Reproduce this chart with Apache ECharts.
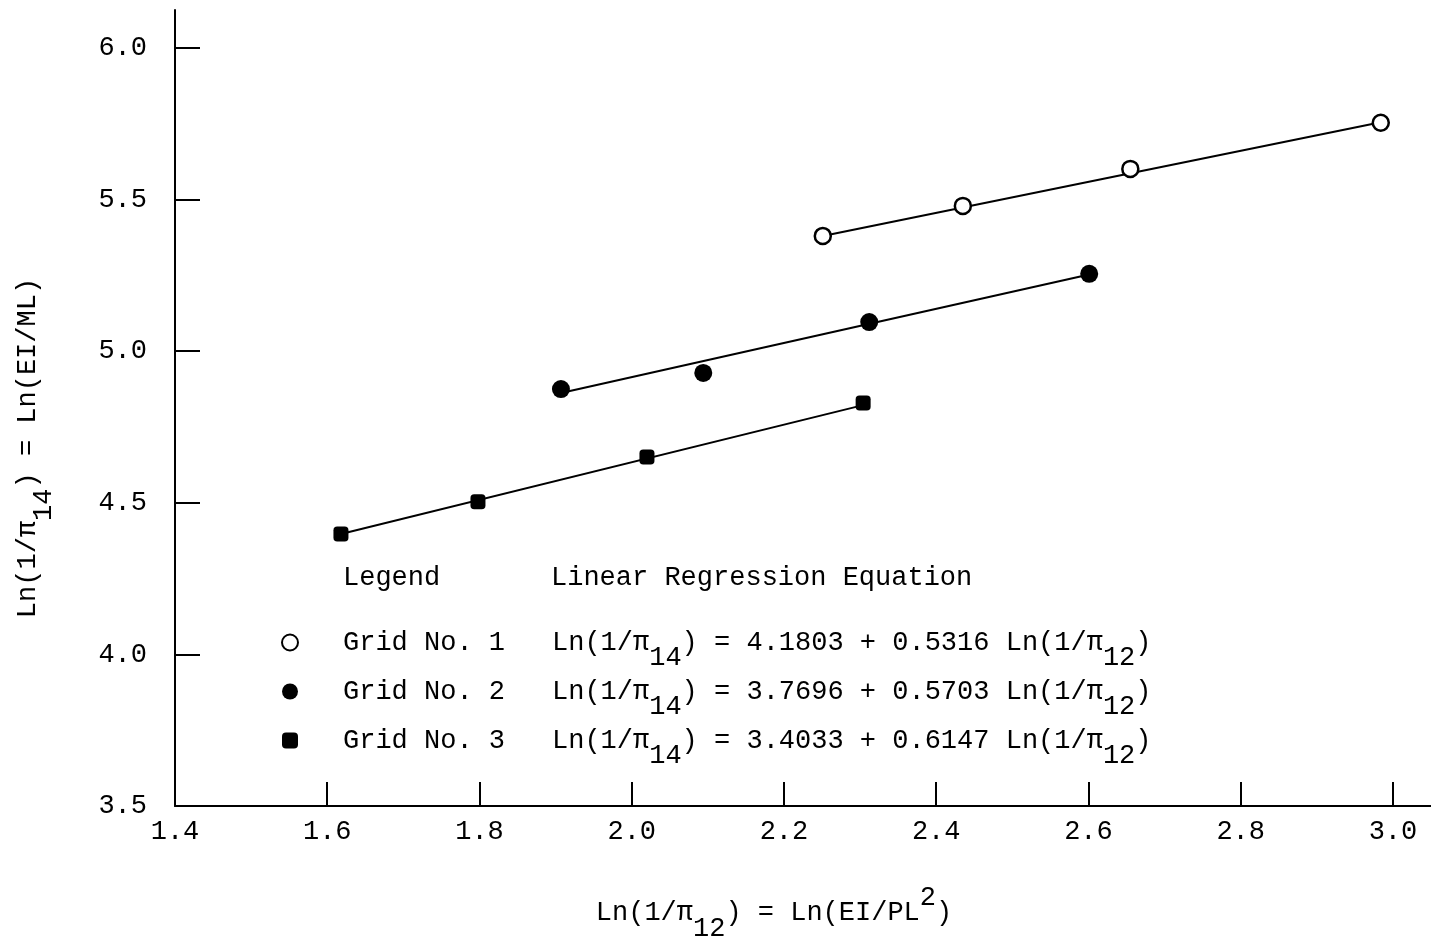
<!DOCTYPE html>
<html>
<head>
<meta charset="utf-8">
<script src="https://cdn.jsdelivr.net/npm/echarts@6/dist/echarts.min.js"></script>
<style>
html,body{margin:0;padding:0;background:#fff;}
#chart{width:1431px;height:942px;}
</style>
</head>
<body>
<div id="chart"></div>
<script>
// ---- data ----
const xTicks = [1.4, 1.6, 1.8, 2.0, 2.2, 2.4, 2.6, 2.8, 3.0];
const yTicks = [3.5, 4.0, 4.5, 5.0, 5.5, 6.0];

const seriesNames = ['Grid No. 1', 'Grid No. 2', 'Grid No. 3'];

const grid1X = [2.251, 2.435, 2.655, 2.984];
const grid1Y = [5.380, 5.479, 5.601, 5.753];
const grid2X = [1.907, 2.094, 2.312, 2.601];
const grid2Y = [4.875, 4.928, 5.096, 5.255];
const grid3X = [1.618, 1.798, 2.020, 2.304];
const grid3Y = [4.397, 4.503, 4.651, 4.829];

// regression line end points as drawn
const fit1X = [2.251, 2.984];
const fit1Y = [5.380, 5.755];
const fit2X = [1.907, 2.601];
const fit2Y = [4.862, 5.253];
const fit3X = [1.618, 2.304];
const fit3Y = [4.397, 4.822];

const intercepts = ['4.1803', '3.7696', '3.4033'];
const slopes = ['0.5316', '0.5703', '0.6147'];

// ---- chart ----
const FONT = "'Liberation Mono', 'Courier New', monospace";
const FS = 27;
const pairs = (xs, ys) => xs.map((x, i) => [x, ys[i]]);

const richBase = {
  b: { fontFamily: FONT, fontSize: FS, color: '#000', lineHeight: 58, verticalAlign: 'middle' },
  s: { fontFamily: FONT, fontSize: FS, color: '#000', lineHeight: 30, verticalAlign: 'bottom' },
  p: { fontFamily: FONT, fontSize: FS, color: '#000', lineHeight: 30, verticalAlign: 'top' },
  n: { fontFamily: FONT, fontSize: FS, color: '#000', lineHeight: 58, verticalAlign: 'middle', width: 209, padding: [0, 0, 0, 40] }
};

const chart = echarts.init(document.getElementById('chart'), null, { renderer: 'canvas' });

const lineStyle = { color: '#000', width: 2 };

const option = {
  backgroundColor: '#fff',
  animation: false,
  grid: { left: 175, right: 0, top: 10, bottom: 136, containLabel: false, outerBoundsMode: 'none' },
  xAxis: {
    type: 'value',
    min: 1.4, max: 3.05, interval: 0.2,
    splitLine: { show: false },
    axisLine: { show: true, onZero: false, lineStyle: { color: '#000', width: 2 } },
    axisTick: { show: true, inside: true, length: 24, customValues: xTicks, lineStyle: { color: '#000', width: 2 } },
    axisLabel: { customValues: xTicks, margin: 12, fontFamily: FONT, fontSize: FS, color: '#000', formatter: v => v.toFixed(1) },
    name: '{b|Ln(1/π}{s|12}{b|) = Ln(EI/PL}{p|2}{b|)}',
    nameLocation: 'middle',
    nameGap: 78,
    nameTextStyle: { padding: [0, 58, 0, 0], rich: richBase }
  },
  yAxis: {
    type: 'value',
    min: 3.5, max: 6.125, interval: 0.5,
    splitLine: { show: false },
    axisLine: { show: true, onZero: false, lineStyle: { color: '#000', width: 2 } },
    axisTick: { show: true, inside: true, length: 25, customValues: yTicks, lineStyle: { color: '#000', width: 2 } },
    axisLabel: { customValues: yTicks, margin: 28, fontFamily: FONT, fontSize: FS, color: '#000', formatter: v => v.toFixed(1) },
    name: '{b|Ln(1/π}{s|14}{b|) = Ln(EI/ML)}',
    nameLocation: 'middle',
    nameRotate: 90,
    nameGap: 118,
    nameTextStyle: { padding: [0, 80, 0, 0], rich: richBase }
  },
  legend: {
    show: true,
    orient: 'vertical',
    left: 281, top: 629,
    padding: 0,
    itemWidth: 16, itemHeight: 16, itemGap: 6.5,
    selectedMode: false,
    data: seriesNames,
    formatter: function (name) {
      const i = seriesNames.indexOf(name);
      return '{n|' + name + '}{b|Ln(1/π}{s|14}{b|) = ' + intercepts[i] + ' + ' + slopes[i] + ' Ln(1/π}{s|12}{b|)}';
    },
    textStyle: { fontFamily: FONT, fontSize: FS, color: '#000', rich: richBase }
  },
  graphic: [
    { type: 'text', left: 343, top: 564, style: { text: 'Legend', font: FS + 'px ' + FONT, fill: '#000' } },
    { type: 'text', left: 551, top: 564, style: { text: 'Linear Regression Equation', font: FS + 'px ' + FONT, fill: '#000' } }
  ],
  series: [
    { name: 'Fit 1', type: 'line', data: pairs(fit1X, fit1Y), showSymbol: false, lineStyle: lineStyle, silent: true, z: 2 },
    { name: 'Fit 2', type: 'line', data: pairs(fit2X, fit2Y), showSymbol: false, lineStyle: lineStyle, silent: true, z: 2 },
    { name: 'Fit 3', type: 'line', data: pairs(fit3X, fit3Y), showSymbol: false, lineStyle: lineStyle, silent: true, z: 2 },
    { name: seriesNames[0], type: 'scatter', data: pairs(grid1X, grid1Y), symbol: 'circle', symbolSize: 16,
      itemStyle: { color: '#fff', borderColor: '#000', borderWidth: 2.5, opacity: 1 }, z: 3 },
    { name: seriesNames[1], type: 'scatter', data: pairs(grid2X, grid2Y), symbol: 'circle', symbolSize: 18,
      itemStyle: { color: '#000', opacity: 1 }, z: 3 },
    { name: seriesNames[2], type: 'scatter', data: pairs(grid3X, grid3Y), symbol: 'roundRect', symbolSize: 15,
      itemStyle: { color: '#000', opacity: 1 }, z: 3 }
  ]
};
chart.setOption(option);
</script>
</body>
</html>
